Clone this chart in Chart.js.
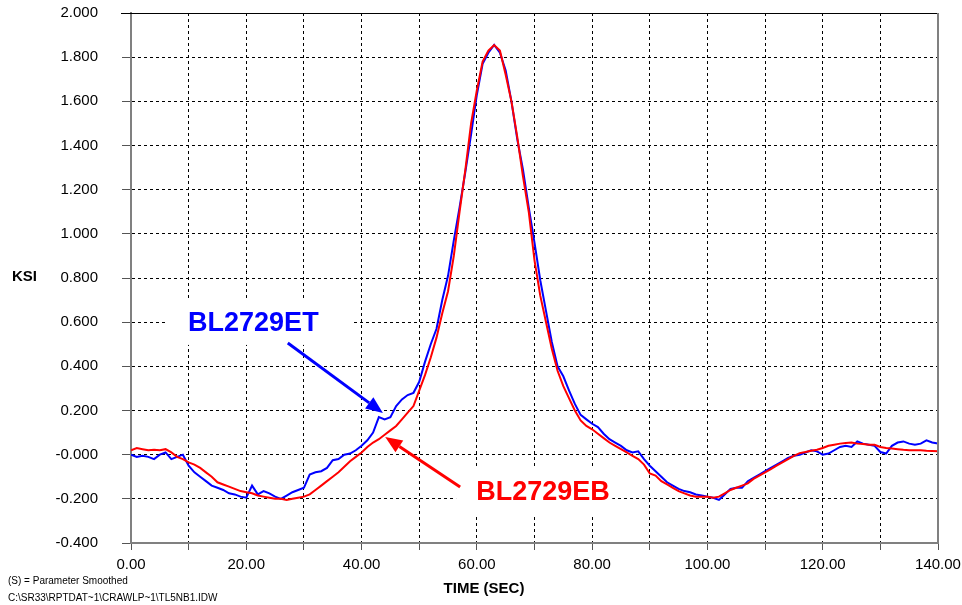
<!DOCTYPE html>
<html>
<head>
<meta charset="utf-8">
<script src="https://cdn.jsdelivr.net/npm/chart.js@4/dist/chart.umd.min.js"></script>
<style>
  html, body { margin: 0; padding: 0; background: #fff; }
  #stressChart { display: block; }
</style>
</head>
<body>
<canvas id="stressChart" width="962" height="605"></canvas>
<script>
// Stress trace data (KSI vs time) at 1 s steps
const timeSec = [];
for (let t = 0; t <= 140; t++) timeSec.push(t);

// BL2729EB (red)
const ebValues = [
  0.02, 0.03, 0.025, 0.02, 0.022, 0.02, 0.025, 0.01, -0.01, -0.02,
  -0.035, -0.045, -0.06, -0.08, -0.1, -0.125, -0.135, -0.145, -0.155, -0.165,
  -0.17, -0.175, -0.185, -0.19, -0.195, -0.2, -0.2, -0.205, -0.2, -0.195,
  -0.19, -0.18, -0.16, -0.14, -0.12, -0.1, -0.08, -0.055, -0.03, -0.01,
  0.01, 0.035, 0.055, 0.07, 0.09, 0.11, 0.13, 0.16, 0.19, 0.22,
  0.29, 0.36, 0.44, 0.53, 0.64, 0.74, 0.9, 1.1, 1.29, 1.5,
  1.65, 1.78, 1.83, 1.855, 1.83, 1.72, 1.6, 1.44, 1.26, 1.1,
  0.88, 0.72, 0.6, 0.48, 0.38, 0.31, 0.255, 0.2, 0.155, 0.13,
  0.115, 0.095, 0.075, 0.055, 0.04, 0.025, 0.01, -0.005, -0.02, -0.045,
  -0.085, -0.095, -0.12, -0.135, -0.15, -0.165, -0.175, -0.185, -0.19, -0.19,
  -0.19, -0.195, -0.19, -0.175, -0.16, -0.15, -0.14, -0.13, -0.11, -0.095,
  -0.08, -0.065, -0.05, -0.035, -0.02, -0.005, 0.007, 0.012, 0.018, 0.022,
  0.03, 0.04, 0.045, 0.05, 0.053, 0.055, 0.05, 0.048, 0.045, 0.045,
  0.035, 0.03, 0.028, 0.025, 0.022, 0.02, 0.02, 0.02, 0.018, 0.017,
  0.015
];

// BL2729ET (blue)
const etValues = [
  0.0, -0.01, -0.005, -0.01, -0.02, 0.0, 0.01, -0.02, -0.01, 0.0,
  -0.05, -0.08, -0.1, -0.12, -0.14, -0.15, -0.16, -0.175, -0.18, -0.19,
  -0.195, -0.14, -0.18, -0.165, -0.175, -0.19, -0.2, -0.185, -0.17, -0.16,
  -0.15, -0.09, -0.08, -0.075, -0.06, -0.025, -0.02, 0.0, 0.005, 0.02,
  0.04, 0.065, 0.1, 0.17, 0.16, 0.17, 0.22, 0.25, 0.27, 0.28,
  0.33, 0.42, 0.5, 0.57, 0.7, 0.81, 0.97, 1.12, 1.28, 1.45,
  1.63, 1.77, 1.82, 1.855, 1.82, 1.74, 1.6, 1.43, 1.29, 1.12,
  0.96, 0.79, 0.65, 0.51, 0.4, 0.355, 0.29, 0.23, 0.18, 0.16,
  0.14, 0.125, 0.095, 0.07, 0.055, 0.04, 0.02, 0.01, 0.015, -0.02,
  -0.05, -0.075, -0.1, -0.125, -0.14, -0.155, -0.165, -0.17, -0.18, -0.185,
  -0.19, -0.195, -0.205, -0.18, -0.155, -0.15, -0.15, -0.12, -0.105, -0.09,
  -0.075, -0.06, -0.045, -0.03, -0.015, -0.005, 0.0, 0.01, 0.02, 0.015,
  0.0, 0.005, 0.02, 0.035, 0.04, 0.035, 0.06, 0.05, 0.045, 0.04,
  0.012, 0.005, 0.04, 0.055, 0.06, 0.05, 0.045, 0.05, 0.065, 0.055,
  0.05
];

// tick labels as printed on the original
const xTickLabels = ['0.00', '', '20.00', '', '40.00', '', '60.00', '', '80.00', '', '100.00', '', '120.00', '', '140.00'];
const yTickLabels = ['-0.400', '-0.200', '-0.000', '0.200', '0.400', '0.600', '0.800', '1.000',
                     '1.200', '1.400', '1.600', '1.800', '2.000'];

// callout labels (data units)
const etLabel = { text: 'BL2729ET', x: 9.9, y: 0.593, box: [6.2, 0.70, 38.5, 0.497],
                  arrowFrom: [27.2, 0.506], arrowTo: [43.7, 0.189], color: '#0000ff' };
const ebLabel = { text: 'BL2729EB', x: 59.9, y: -0.173, box: [56.4, -0.056, 83.5, -0.282],
                  arrowFrom: [57.1, -0.146], arrowTo: [44.1, 0.08], color: '#ff0000' };

const FONT = "Arial, 'Liberation Sans', sans-serif";

// draws frame, callouts and loose texts
const decorPlugin = {
  id: 'decor',
  beforeDatasetsDraw(chart) {
    const { ctx, scales: { x, y } } = chart;
    ctx.save();
    ctx.fillStyle = '#fff';
    [etLabel, ebLabel].forEach(l => {
      const x1 = x.getPixelForValue(l.box[0]), y1 = y.getPixelForValue(l.box[1]);
      const x2 = x.getPixelForValue(l.box[2]), y2 = y.getPixelForValue(l.box[3]);
      ctx.fillRect(x1, y1, x2 - x1, y2 - y1);
    });
    ctx.restore();
  },
  afterDraw(chart) {
    const { ctx, chartArea: a, scales: { x, y } } = chart;
    ctx.save();
    // top + right frame
    ctx.strokeStyle = '#000';
    ctx.lineWidth = 1;
    ctx.beginPath();
    ctx.moveTo(a.left - 10, a.top + 0.5);
    ctx.lineTo(a.right, a.top + 0.5);
    ctx.stroke();
    ctx.strokeStyle = '#808080';
    ctx.lineWidth = 2;
    ctx.beginPath();
    ctx.moveTo(a.right, a.top);
    ctx.lineTo(a.right, a.bottom);
    ctx.stroke();

    // callouts
    [etLabel, ebLabel].forEach(l => {
      ctx.fillStyle = l.color;
      ctx.strokeStyle = l.color;
      ctx.font = 'bold 27px ' + FONT;
      ctx.textAlign = 'left';
      ctx.textBaseline = 'middle';
      ctx.fillText(l.text, x.getPixelForValue(l.x), y.getPixelForValue(l.y));

      const fx = x.getPixelForValue(l.arrowFrom[0]), fy = y.getPixelForValue(l.arrowFrom[1]);
      const tx = x.getPixelForValue(l.arrowTo[0]), ty = y.getPixelForValue(l.arrowTo[1]);
      const ang = Math.atan2(ty - fy, tx - fx);
      const headLen = 17, headW = 7;
      const bx = tx - headLen * Math.cos(ang), by = ty - headLen * Math.sin(ang);
      ctx.lineWidth = 3;
      ctx.beginPath();
      ctx.moveTo(fx, fy);
      ctx.lineTo(bx, by);
      ctx.stroke();
      ctx.beginPath();
      ctx.moveTo(tx, ty);
      ctx.lineTo(bx + headW * Math.sin(ang), by - headW * Math.cos(ang));
      ctx.lineTo(bx - headW * Math.sin(ang), by + headW * Math.cos(ang));
      ctx.closePath();
      ctx.fill();
    });

    // axis names and footnotes
    ctx.fillStyle = '#000';
    ctx.textBaseline = 'middle';
    ctx.textAlign = 'left';
    ctx.font = 'bold 15px ' + FONT;
    ctx.fillText('KSI', 12, 277);
    ctx.textAlign = 'center';
    ctx.fillText('TIME (SEC)', 484, 589);
    ctx.textAlign = 'left';
    ctx.font = '10px ' + FONT;
    ctx.fillText('(S) = Parameter Smoothed', 8, 581);
    ctx.fillText('C:\\SR33\\RPTDAT~1\\CRAWLP~1\\TL5NB1.IDW', 8, 598);
    ctx.restore();
  }
};

document.addEventListener('DOMContentLoaded', () => {
  const ctx = document.getElementById('stressChart').getContext('2d');

  new Chart(ctx, {
    type: 'line',
    data: {
      datasets: [
        {
          label: 'BL2729EB',
          data: timeSec.map((t, i) => ({ x: t, y: ebValues[i] })),
          borderColor: '#ff0000',
          borderWidth: 2,
          pointRadius: 0,
          tension: 0,
          order: 1
        },
        {
          label: 'BL2729ET',
          data: timeSec.map((t, i) => ({ x: t, y: etValues[i] })),
          borderColor: '#0000ff',
          borderWidth: 2,
          pointRadius: 0,
          tension: 0,
          order: 2
        }
      ]
    },
    options: {
      responsive: false,
      animation: false,
      layout: { padding: { left: 0, top: 13, right: 24, bottom: 0 } },
      plugins: {
        legend: { display: false },
        tooltip: { enabled: false }
      },
      scales: {
        x: {
          type: 'linear',
          min: 0,
          max: 140,
          afterFit: s => { s.height = 62; s.paddingLeft = 0; s.paddingRight = 0; },
          ticks: {
            stepSize: 10,
            autoSkip: false,
            maxRotation: 0,
            color: '#000',
            padding: 6,
            font: { family: FONT, size: 15 },
            callback: (v, i) => xTickLabels[i]
          },
          grid: {
            color: '#000',
            lineWidth: 1,
            tickLength: 7,
            tickColor: '#555',
            tickBorderDash: []
          },
          border: { display: true, color: '#808080', width: 2, dash: [3, 3] }
        },
        y: {
          min: -0.4,
          max: 2.0,
          afterFit: s => { s.width = 131; s.paddingTop = 0; s.paddingBottom = 0; },
          ticks: {
            stepSize: 0.2,
            color: '#000',
            padding: 24,
            font: { family: FONT, size: 15 },
            callback: (v, i) => yTickLabels[i]
          },
          grid: {
            color: '#000',
            lineWidth: 1,
            tickLength: 9,
            tickColor: '#555',
            tickBorderDash: []
          },
          border: { display: true, color: '#808080', width: 2, dash: [3, 3] }
        }
      }
    },
    plugins: [decorPlugin]
  });
});
</script>
</body>
</html>
